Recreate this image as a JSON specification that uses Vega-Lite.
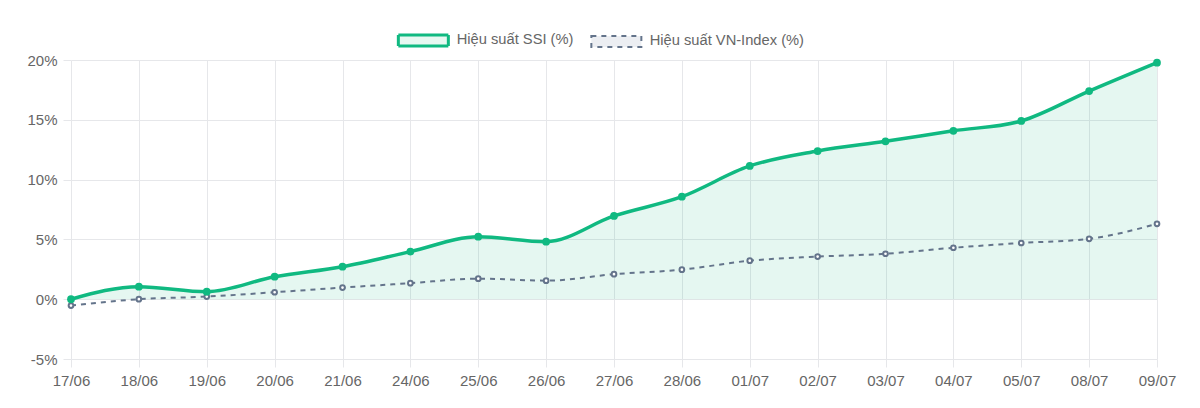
{
  "$schema": "https://vega.github.io/schema/vega-lite/v6.json",
  "autosize": {"type": "none"},
  "width": 1086,
  "height": 299,
  "padding": {"left": 71, "top": 60, "right": 43, "bottom": 49},
  "background": "#ffffff",
  "config": {
    "font": "Liberation Sans",
    "view": {"stroke": null},
    "axis": {
      "gridColor": "#e6e7ea",
      "tickColor": "#e6e7ea",
      "domain": false,
      "labelColor": "#666666",
      "labelFontSize": 15,
      "title": null
    }
  },
  "data": {
    "values": [
      {"date": "17/06", "series": "Hiệu suất SSI (%)", "value": 0},
      {"date": "18/06", "series": "Hiệu suất SSI (%)", "value": 1.05},
      {"date": "19/06", "series": "Hiệu suất SSI (%)", "value": 0.63},
      {"date": "20/06", "series": "Hiệu suất SSI (%)", "value": 1.88},
      {"date": "21/06", "series": "Hiệu suất SSI (%)", "value": 2.72},
      {"date": "24/06", "series": "Hiệu suất SSI (%)", "value": 3.98},
      {"date": "25/06", "series": "Hiệu suất SSI (%)", "value": 5.23},
      {"date": "26/06", "series": "Hiệu suất SSI (%)", "value": 4.81},
      {"date": "27/06", "series": "Hiệu suất SSI (%)", "value": 6.96},
      {"date": "28/06", "series": "Hiệu suất SSI (%)", "value": 8.57},
      {"date": "01/07", "series": "Hiệu suất SSI (%)", "value": 11.14},
      {"date": "02/07", "series": "Hiệu suất SSI (%)", "value": 12.39},
      {"date": "03/07", "series": "Hiệu suất SSI (%)", "value": 13.2},
      {"date": "04/07", "series": "Hiệu suất SSI (%)", "value": 14.08},
      {"date": "05/07", "series": "Hiệu suất SSI (%)", "value": 14.9},
      {"date": "08/07", "series": "Hiệu suất SSI (%)", "value": 17.4},
      {"date": "09/07", "series": "Hiệu suất SSI (%)", "value": 19.78},
      {"date": "17/06", "series": "Hiệu suất VN-Index (%)", "value": -0.53},
      {"date": "18/06", "series": "Hiệu suất VN-Index (%)", "value": 0},
      {"date": "19/06", "series": "Hiệu suất VN-Index (%)", "value": 0.22},
      {"date": "20/06", "series": "Hiệu suất VN-Index (%)", "value": 0.58},
      {"date": "21/06", "series": "Hiệu suất VN-Index (%)", "value": 0.97},
      {"date": "24/06", "series": "Hiệu suất VN-Index (%)", "value": 1.34},
      {"date": "25/06", "series": "Hiệu suất VN-Index (%)", "value": 1.72},
      {"date": "26/06", "series": "Hiệu suất VN-Index (%)", "value": 1.55},
      {"date": "27/06", "series": "Hiệu suất VN-Index (%)", "value": 2.09},
      {"date": "28/06", "series": "Hiệu suất VN-Index (%)", "value": 2.47},
      {"date": "01/07", "series": "Hiệu suất VN-Index (%)", "value": 3.22},
      {"date": "02/07", "series": "Hiệu suất VN-Index (%)", "value": 3.56},
      {"date": "03/07", "series": "Hiệu suất VN-Index (%)", "value": 3.8},
      {"date": "04/07", "series": "Hiệu suất VN-Index (%)", "value": 4.3},
      {"date": "05/07", "series": "Hiệu suất VN-Index (%)", "value": 4.7},
      {"date": "08/07", "series": "Hiệu suất VN-Index (%)", "value": 5.05},
      {"date": "09/07", "series": "Hiệu suất VN-Index (%)", "value": 6.3}
    ]
  },
  "encoding": {
    "x": {
      "field": "date",
      "type": "ordinal",
      "sort": ["17/06","18/06","19/06","20/06","21/06","24/06","25/06","26/06","27/06","28/06","01/07","02/07","03/07","04/07","05/07","08/07","09/07"],
      "scale": {"type": "point", "padding": 0},
      "axis": {"labelAngle": 0, "grid": true, "tickSize": 8, "labelPadding": 6}
    },
    "y": {
      "field": "value",
      "type": "quantitative",
      "scale": {"domain": [-5, 20], "nice": false, "zero": false},
      "axis": {"values": [-5, 0, 5, 10, 15, 20], "labelExpr": "datum.value + '%'", "grid": true, "tickSize": 8, "labelPadding": 6}
    }
  },
  "layer": [
    {
      "transform": [{"filter": "datum.series === 'Hiệu suất SSI (%)'"}],
      "mark": {"type": "area", "interpolate": "monotone", "color": "#10b981", "opacity": 0.11},
      "encoding": {"y2": {"datum": 0}}
    },
    {
      "transform": [{"filter": "datum.series === 'Hiệu suất VN-Index (%)'"}],
      "mark": {"type": "line", "interpolate": "monotone", "strokeWidth": 2, "strokeDash": [5, 5]},
      "encoding": {
        "color": {
          "field": "series",
          "type": "nominal",
          "scale": {"domain": ["Hiệu suất SSI (%)", "Hiệu suất VN-Index (%)"], "range": ["#10b981", "#64748b"]},
          "legend": {
            "orient": "none",
            "legendX": 345,
            "legendY": -27,
            "direction": "horizontal",
            "title": null,
            "symbolType": "M-1,-0.22H1V0.22H-1Z",
            "symbolSize": 2500,
            "labelFontSize": 14.7,
            "labelColor": "#666666",
            "labelOffset": 26,
            "columnPadding": 13,
            "encode": {
              "symbols": {
                "update": {
                  "fill": {"signal": "datum.value === 'Hiệu suất SSI (%)' ? '#e7f8f1' : '#eceef2'"},
                  "fillOpacity": {"value": 1},
                  "opacity": {"value": 1},
                  "stroke": {"signal": "datum.value === 'Hiệu suất SSI (%)' ? '#10b981' : '#64748b'"},
                  "strokeDash": {"signal": "datum.value === 'Hiệu suất SSI (%)' ? [1, 0] : [5, 5]"},
                  "strokeWidth": {"signal": "datum.value === 'Hiệu suất SSI (%)' ? 3 : 2"}
                }
              }
            }
          }
        }
      }
    },
    {
      "transform": [{"filter": "datum.series === 'Hiệu suất VN-Index (%)'"}],
      "mark": {"type": "point", "shape": "circle", "filled": false, "fill": "#ffffff", "stroke": "#64748b", "strokeWidth": 2, "size": 22, "opacity": 1}
    },
    {
      "transform": [{"filter": "datum.series === 'Hiệu suất SSI (%)'"}],
      "mark": {"type": "line", "interpolate": "monotone", "strokeWidth": 3.5},
      "encoding": {
        "color": {"field": "series", "type": "nominal"}
      }
    },
    {
      "transform": [{"filter": "datum.series === 'Hiệu suất SSI (%)'"}],
      "mark": {"type": "point", "shape": "circle", "filled": true, "color": "#10b981", "size": 60, "opacity": 1}
    }
  ]
}
